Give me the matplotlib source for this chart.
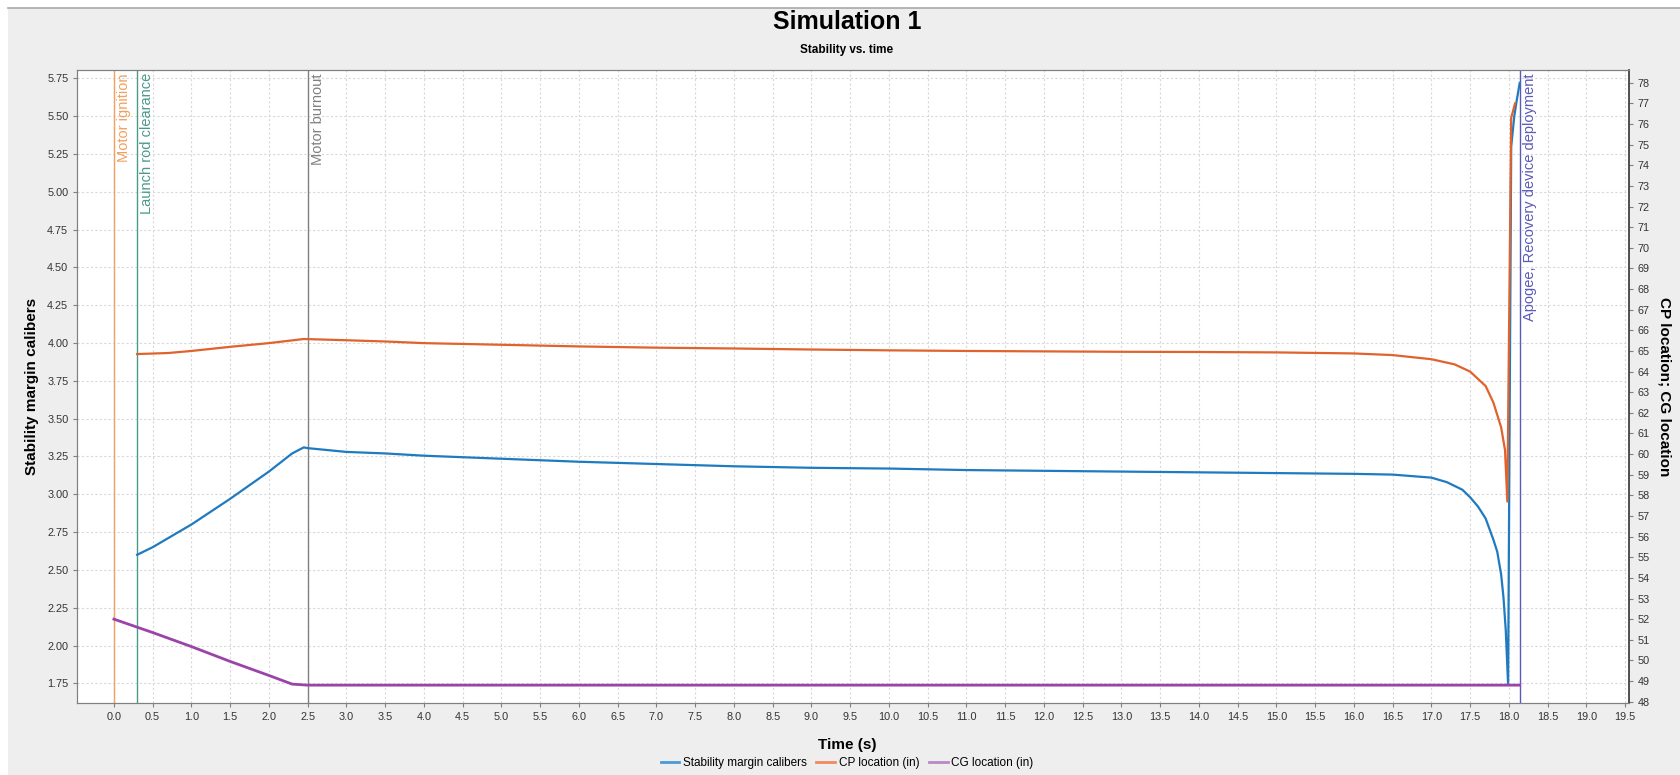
import matplotlib
matplotlib.use("Agg")
import matplotlib.pyplot as plt
from matplotlib.lines import Line2D
from matplotlib.patches import Rectangle

plt.rcParams['font.family'] = ['Liberation Sans', 'DejaVu Sans']

# ---------------- data ----------------
stab_t = [0.3, 0.5, 1.0, 1.5, 2.0, 2.3, 2.45, 2.5, 3.0, 3.5, 4.0, 4.5, 5.0, 6.0, 7.0, 8.0,
          9.0, 10.0, 11.0, 12.0, 13.0, 14.0, 15.0, 16.0, 16.5, 17.0, 17.2, 17.4, 17.5, 17.6,
          17.7, 17.8, 17.85, 17.9, 17.93, 17.96, 17.99, 18.03, 18.07, 18.1, 18.14]
stab_v = [2.60, 2.65, 2.80, 2.97, 3.15, 3.27, 3.31, 3.305, 3.28, 3.27, 3.255, 3.245, 3.235,
          3.215, 3.20, 3.185, 3.175, 3.17, 3.16, 3.155, 3.15, 3.145, 3.14, 3.135, 3.13, 3.11,
          3.08, 3.03, 2.98, 2.92, 2.84, 2.70, 2.62, 2.47, 2.32, 2.10, 1.74, 5.30, 5.50, 5.60, 5.72]

cp_t = [0.3, 0.7, 1.0, 1.5, 2.0, 2.45, 3.0, 3.5, 4.0, 5.0, 6.0, 7.0, 8.0, 9.0, 10.0, 11.0,
        12.0, 13.0, 14.0, 15.0, 16.0, 16.5, 17.0, 17.3, 17.5, 17.7, 17.8, 17.9, 17.95, 17.98,
        18.03, 18.08]
cp_v = [64.85, 64.9, 65.0, 65.2, 65.38, 65.58, 65.52, 65.46, 65.38, 65.3, 65.22, 65.16, 65.12,
        65.07, 65.03, 65.0, 64.98, 64.96, 64.95, 64.93, 64.88, 64.8, 64.6, 64.35, 64.0, 63.3,
        62.5, 61.3, 60.2, 57.7, 76.3, 77.0]

cg_t = [0.0, 0.5, 1.0, 1.5, 2.0, 2.3, 2.5, 18.14]
cg_v = [52.0, 51.35, 50.67, 49.95, 49.27, 48.85, 48.8, 48.8]

event_names = ["Motor ignition", "Launch rod clearance", "Motor burnout",
               "Apogee, Recovery device deployment"]
event_times = [0.0, 0.3, 2.5, 18.14]
event_colors = ["#f0a060", "#4a9a88", "#808080", "#5a5ab8"]

left_ticks = [1.75 + 0.25 * i for i in range(17)]
right_ticks = list(range(48, 79))
x_ticks = [0.5 * i for i in range(40)]

title = "Simulation 1"
subtitle = "Stability vs. time"
xlabel = "Time (s)"
ylabel_left = "Stability margin calibers"
ylabel_right = "CP location; CG location"
legend_labels = ["Stability margin calibers", "CP location (in)", "CG location (in)"]

c_stab = "#1f7ac0"
c_cp = "#e0622c"
c_cg = "#9a44a8"

# ---------------- figure ----------------
W, H = 1680, 775
fig = plt.figure(figsize=(W / 100, H / 100), dpi=100, facecolor="white")
fig.patches.append(Rectangle((8 / W, 0), 1 - 8 / W, 1 - 8 / H, transform=fig.transFigure,
                             facecolor="#eeeeee", edgecolor="none", zorder=-10))
fig.add_artist(Line2D([8 / W, 1], [1 - 8 / H, 1 - 8 / H], transform=fig.transFigure,
                      color="#a8a8a8", lw=1.2))

L, R, T, B = 76.7, 1629, 70, 703.3
ax = fig.add_axes([L / W, 1 - B / H, (R - L) / W, (B - T) / H])
ax.set_facecolor("white")
ax2 = ax.twinx()

ax.set_xlim(-0.48, 19.55)
ax.set_ylim(1.618, 5.805)
ax2.set_ylim(47.92, 78.62)

ax.set_xticks(x_ticks)
ax.set_xticklabels([f"{v:.1f}" for v in x_ticks])
ax.set_yticks(left_ticks)
ax.set_yticklabels([f"{v:.2f}" for v in left_ticks])
ax2.set_yticks(right_ticks)
ax2.set_yticklabels([str(v) for v in right_ticks])

ax.grid(True, color="#d8d8d8", linestyle=(0, (2, 2)), linewidth=0.8)
ax.set_axisbelow(True)
for a in (ax, ax2):
    a.tick_params(labelsize=7.8, length=3, width=0.8, color="#808080", labelcolor="#333333", pad=3)
for s in ["left", "bottom", "top"]:
    ax.spines[s].set_color("#808080")
    ax2.spines[s].set_color("#808080")
ax2.spines["right"].set_color("#333333")
ax2.spines["right"].set_linewidth(1.2)
ax.spines["right"].set_visible(False)

# events
for name, t, c in zip(event_names, event_times, event_colors):
    ax.axvline(t, color=c, lw=1.0, zorder=2)
    ax.text(t + 0.04, 5.785, name, rotation=90, ha="left", va="top", color=c,
            fontsize=10.5, zorder=3)

# series
ax.plot(stab_t, stab_v, color=c_stab, lw=1.6, zorder=5)
ax2.plot(cp_t, cp_v, color=c_cp, lw=1.6, zorder=5)
ax2.plot(cg_t, cg_v, color=c_cg, lw=2.0, zorder=5)

# labels
fig.text(847 / W, 1 - 22 / H, title, ha="center", va="center", fontsize=18, fontweight="bold")
fig.text(847 / W, 1 - 50 / H, subtitle, ha="center", va="center", fontsize=8.5,
         fontweight="bold")
fig.text(32 / W, 1 - (B + T) / 2 / H, ylabel_left, rotation=90, ha="center", va="center",
         fontsize=11, fontweight="bold")
fig.text(1665 / W, 1 - (B + T) / 2 / H, ylabel_right, rotation=270, ha="center", va="center",
         fontsize=11, fontweight="bold")
fig.text(847 / W, 1 - 745 / H, xlabel, ha="center", va="center", fontsize=11,
         fontweight="bold")

handles = [Line2D([], [], color="#4a9ad8", lw=2),
           Line2D([], [], color="#f08a60", lw=2),
           Line2D([], [], color="#b888c8", lw=2)]
fig.legend(handles, legend_labels, loc="center", bbox_to_anchor=(847 / W, 1 - 763 / H),
           ncol=3, frameon=False, fontsize=8.5, handlelength=1.6, handletextpad=0.3,
           columnspacing=0.8)

fig.savefig("out.png", dpi=100, facecolor=fig.get_facecolor())
